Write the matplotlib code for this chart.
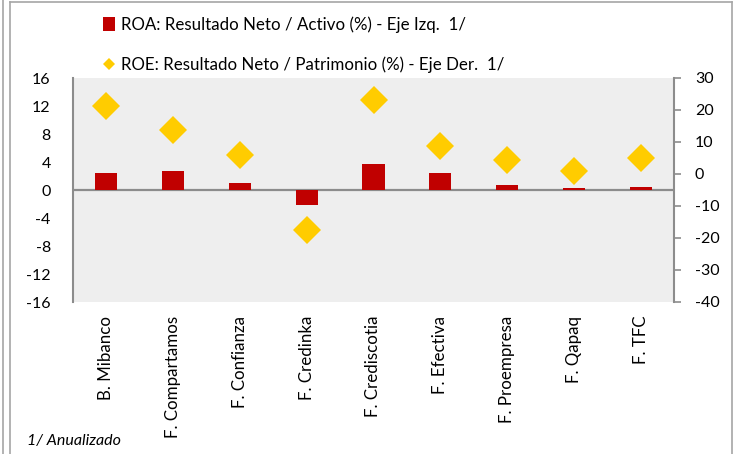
import matplotlib
matplotlib.use("Agg")
import matplotlib.pyplot as plt
from matplotlib.lines import Line2D
from matplotlib.patches import Patch
import numpy as np

categories = ["B. Mibanco", "F. Compartamos", "F. Confianza", "F. Credinka",
              "F. Crediscotia", "F. Efectiva", "F. Proempresa", "F. Qapaq", "F. TFC"]
roa = [2.4, 2.75, 1.0, -2.15, 3.7, 2.5, 0.7, 0.25, 0.5]
roe = [21.3, 13.8, 6.0, -17.4, 23.2, 8.6, 4.4, 1.0, 5.0]
left_ticks = [16, 12, 8, 4, 0, -4, -8, -12, -16]
right_ticks = [30, 20, 10, 0, -10, -20, -30, -40]
roa_label = "ROA: Resultado Neto / Activo (%) - Eje Izq.  1/"
roe_label = "ROE: Resultado Neto / Patrimonio (%) - Eje Der.  1/"
footnote = "1/ Anualizado"

plt.rcParams['font.family'] = ['Lato', 'DejaVu Sans']

W, H = 740, 454
fig = plt.figure(figsize=(W / 100, H / 100), dpi=100)
ax = fig.add_axes([73 / W, 1 - 302 / H, (674 - 73) / W, (302 - 78) / H])
ax2 = ax.twinx()

gray = "#8c8c8c"
ax.set_facecolor("#eeeeee")
x = np.arange(len(categories))
ax.bar(x, roa, width=0.33, color="#c00000", zorder=3)
ax.axhline(0, color=gray, lw=1.6, zorder=2)
ax.set_xlim(-0.5, len(categories) - 0.5)
ax.set_ylim(-16, 16)
ax.set_yticks(left_ticks)
ax.set_yticklabels([str(v) for v in left_ticks], fontsize=11.5)
ax.tick_params(axis='y', length=0, pad=16)
ax.set_xticks(x)
ax.set_xticklabels(categories, rotation=90, fontsize=12.2)
ax.tick_params(axis='x', length=0, pad=10)

ax2.plot(x, roe, linestyle='none', marker='D', ms=14.5, color="#ffcc00",
         markeredgewidth=0, zorder=4)
ax2.set_ylim(-40, 30)
ax2.set_yticks(right_ticks)
ax2.set_yticklabels([str(v) for v in right_ticks], fontsize=11.5)
ax2.tick_params(axis='y', length=5, width=1.2, color=gray, pad=10, direction='out')

for a in (ax, ax2):
    a.spines['top'].set_visible(False)
    a.spines['bottom'].set_visible(False)
    a.spines['left'].set_color(gray)
    a.spines['right'].set_color(gray)
    a.spines['left'].set_linewidth(1.5)
    a.spines['right'].set_linewidth(1.5)
ax2.spines['left'].set_visible(False)
ax.spines['right'].set_visible(False)

handles = [Patch(facecolor="#c00000", edgecolor="none"),
           Line2D([], [], linestyle='none', marker='D', ms=6, color="#ffcc00", markeredgewidth=0)]
fig.legend(handles, [roa_label, roe_label], loc='upper left',
           bbox_to_anchor=(88 / W, 1 - 1 / H), frameon=False, fontsize=12.2,
           labelspacing=1.42, handlelength=0.7, handletextpad=0.35, handleheight=0.85)

fig.text(27 / W, 1 - 441 / H, footnote, fontsize=11.5, style='italic', va='center')

# outer frame lines
fc = "#a6a6a6"
fig.add_artist(Line2D([3 / W, 3 / W], [0, 1], color=fc, lw=1.2))
fig.add_artist(Line2D([10 / W, 10 / W], [0, 1 - 2 / H], color=fc, lw=1.2))
fig.add_artist(Line2D([10 / W, 732 / W], [1 - 2 / H, 1 - 2 / H], color=fc, lw=1.2))
fig.add_artist(Line2D([732 / W, 732 / W], [0, 1 - 2 / H], color=fc, lw=1.2))

fig.savefig("out.png", dpi=100)
